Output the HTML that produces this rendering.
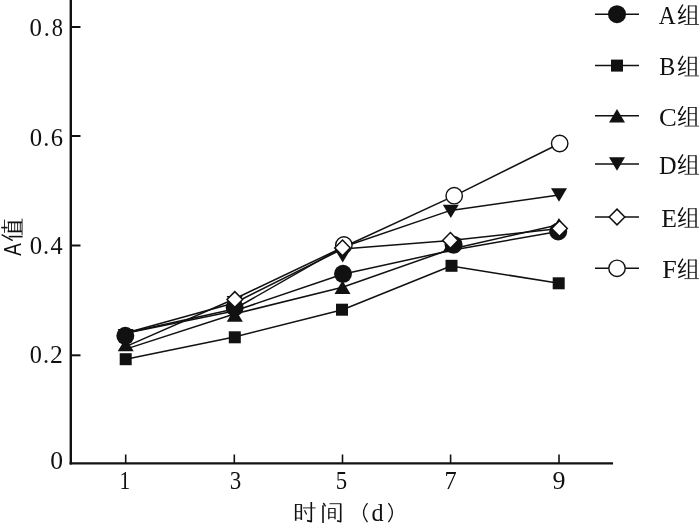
<!DOCTYPE html>
<html><head><meta charset="utf-8"><style>
html,body{margin:0;padding:0;background:#fff;width:700px;height:529px;overflow:hidden}
svg{display:block;will-change:transform}
text{fill:#111}
</style></head><body>
<svg width="700" height="529" viewBox="0 0 700 529">
<rect width="700" height="529" fill="#fff"/>
<line x1="70.8" y1="0" x2="70.8" y2="464.6" stroke="#111" stroke-width="2.4"/><line x1="69.6" y1="463.4" x2="613" y2="463.4" stroke="#111" stroke-width="2.4"/><line x1="70" y1="27.0" x2="80.5" y2="27.0" stroke="#111" stroke-width="2"/><line x1="70" y1="136.0" x2="80.5" y2="136.0" stroke="#111" stroke-width="2"/><line x1="70" y1="245.5" x2="80.5" y2="245.5" stroke="#111" stroke-width="2"/><line x1="70" y1="355.3" x2="80.5" y2="355.3" stroke="#111" stroke-width="2"/><line x1="125.7" y1="454.5" x2="125.7" y2="463" stroke="#111" stroke-width="1.6"/><line x1="234.3" y1="454.5" x2="234.3" y2="463" stroke="#111" stroke-width="1.6"/><line x1="342.5" y1="454.5" x2="342.5" y2="463" stroke="#111" stroke-width="1.6"/><line x1="450.6" y1="454.5" x2="450.6" y2="463" stroke="#111" stroke-width="1.6"/><line x1="559.0" y1="454.5" x2="559.0" y2="463" stroke="#111" stroke-width="1.6"/>
<polyline points="125.7,346.6 234.3,299.0 342.5,247.5 454.2,195.9 559.7,143.5" fill="none" stroke="#111" stroke-width="1.5" stroke-linejoin="round"/><polyline points="125.7,333.0 234.3,303.0 342.5,249.0 450.6,240.6 559.5,228.5" fill="none" stroke="#111" stroke-width="1.5" stroke-linejoin="round"/><polyline points="125.7,333.0 234.3,309.0 342.5,247.2 450.6,210.4 559.0,195.0" fill="none" stroke="#111" stroke-width="1.5" stroke-linejoin="round"/><polyline points="125.7,333.2 234.3,311.0 342.5,274.2 453.0,250.0 558.2,231.5" fill="none" stroke="#111" stroke-width="1.5" stroke-linejoin="round"/><polyline points="125.7,349.1 234.3,314.0 342.5,287.3 450.6,249.3 558.9,224.7" fill="none" stroke="#111" stroke-width="1.5" stroke-linejoin="round"/><polyline points="125.7,359.2 234.3,337.0 342.5,309.7 451.0,266.0 559.0,283.3" fill="none" stroke="#111" stroke-width="1.5" stroke-linejoin="round"/><path d="M117.7 329.1L133.7 329.1L125.7 342.5Z" fill="#111"/><path d="M125.7 337.90000000000003L133.7 351.3L117.7 351.3Z" fill="#111"/><rect x="119.7" y="353.2" width="12" height="12" fill="#111"/><circle cx="125.3" cy="335.8" r="9" fill="#111"/><rect x="228.8" y="331.3" width="12" height="12" fill="#111"/><path d="M234.8 308.3L242.8 321.7L226.8 321.7Z" fill="#111"/><circle cx="234.7" cy="307.5" r="9" fill="#111"/><path d="M226.6 296.1L242.6 296.1L234.6 309.5Z" fill="#111"/><path d="M234.8 291.6L242.60000000000002 299.5L234.8 307.4L227.0 299.5Z" fill="#fff" stroke="#111" stroke-width="1.5"/><circle cx="343.9" cy="245.0" r="8.2" fill="#fff" stroke="#111" stroke-width="1.4"/><path d="M334.7 249.20000000000002L350.7 249.20000000000002L342.7 262.6Z" fill="#111"/><rect x="336.0" y="303.7" width="12" height="12" fill="#111"/><path d="M342.5 280.6L350.5 294.0L334.5 294.0Z" fill="#111"/><circle cx="343.0" cy="273.8" r="9" fill="#111"/><path d="M342.5 240.0L350.3 247.9L342.5 255.8L334.7 247.9Z" fill="#fff" stroke="#111" stroke-width="1.5"/><circle cx="454.2" cy="195.7" r="8.2" fill="#fff" stroke="#111" stroke-width="1.4"/><path d="M442.8 204.70000000000002L458.8 204.70000000000002L450.8 218.1Z" fill="#111"/><rect x="445.5" y="259.8" width="12" height="12" fill="#111"/><path d="M450.6 238.8L458.6 252.2L442.6 252.2Z" fill="#111"/><circle cx="453.6" cy="244.7" r="9" fill="#111"/><path d="M450.4 232.5L458.2 240.4L450.4 248.3L442.59999999999997 240.4Z" fill="#fff" stroke="#111" stroke-width="1.5"/><circle cx="559.7" cy="143.5" r="8.2" fill="#fff" stroke="#111" stroke-width="1.4"/><path d="M551.0 188.3L567.0 188.3L559.0 201.7Z" fill="#111"/><rect x="552.7" y="277.3" width="12" height="12" fill="#111"/><path d="M558.9 218.0L566.9 231.39999999999998L550.9 231.39999999999998Z" fill="#111"/><circle cx="558.2" cy="231.5" r="9" fill="#111"/><path d="M559.5 220.6L567.3 228.5L559.5 236.4L551.7 228.5Z" fill="#fff" stroke="#111" stroke-width="1.5"/>
<line x1="595" y1="14.2" x2="639" y2="14.2" stroke="#111" stroke-width="1.5"/><circle cx="617" cy="14.2" r="9" fill="#111"/><line x1="595" y1="65.6" x2="639" y2="65.6" stroke="#111" stroke-width="1.5"/><rect x="611" y="59.599999999999994" width="12" height="12" fill="#111"/><line x1="595" y1="115.8" x2="639" y2="115.8" stroke="#111" stroke-width="1.5"/><path d="M617 109.1L625 122.5L609 122.5Z" fill="#111"/><line x1="595" y1="164.0" x2="639" y2="164.0" stroke="#111" stroke-width="1.5"/><path d="M609 157.3L625 157.3L617 170.7Z" fill="#111"/><line x1="595" y1="217.0" x2="639" y2="217.0" stroke="#111" stroke-width="1.5"/><path d="M617 209.1L624.8 217.0L617 224.9L609.2 217.0Z" fill="#fff" stroke="#111" stroke-width="1.5"/><line x1="595" y1="268.3" x2="639" y2="268.3" stroke="#111" stroke-width="1.5"/><circle cx="617" cy="268.3" r="8.2" fill="#fff" stroke="#111" stroke-width="1.4"/>
<text font-family="Liberation Serif" font-size="24.4" transform="translate(29.62 36.05) scale(1.018 1)">0</text><text font-family="Liberation Serif" font-size="24.4" transform="translate(43.75 36.05) scale(1.000 1)">.</text><text font-family="Liberation Serif" font-size="24.4" transform="translate(51.85 36.05) scale(0.919 1)">8</text><text font-family="Liberation Serif" font-size="24.4" transform="translate(29.66 146.05) scale(1.015 1)">0</text><text font-family="Liberation Serif" font-size="24.4" transform="translate(43.35 146.05) scale(1.000 1)">.</text><text font-family="Liberation Serif" font-size="24.4" transform="translate(50.64 146.05) scale(1.007 1)">6</text><text font-family="Liberation Serif" font-size="24.4" transform="translate(29.66 253.55) scale(1.015 1)">0</text><text font-family="Liberation Serif" font-size="24.4" transform="translate(43.05 253.55) scale(1.000 1)">.</text><text font-family="Liberation Serif" font-size="24.4" transform="translate(50.43 253.55) scale(0.996 1)">4</text><text font-family="Liberation Serif" font-size="24.4" transform="translate(29.67 362.55) scale(0.996 1)">0</text><text font-family="Liberation Serif" font-size="24.4" transform="translate(43.05 362.55) scale(1.000 1)">.</text><text font-family="Liberation Serif" font-size="24.4" transform="translate(49.99 362.55) scale(1.050 1)">2</text><text font-family="Liberation Serif" font-size="24.4" transform="translate(50.14 469.45) scale(1.050 1)">0</text><text font-family="Liberation Serif" font-size="25" transform="translate(119.54 488.6) scale(0.850 1)">1</text><text font-family="Liberation Serif" font-size="25" transform="translate(229.80 488.6) scale(0.920 1)">3</text><text font-family="Liberation Serif" font-size="25" transform="translate(335.87 488.6) scale(0.914 1)">5</text><text font-family="Liberation Serif" font-size="25" transform="translate(444.39 488.6) scale(0.977 1)">7</text><text font-family="Liberation Serif" font-size="25" transform="translate(552.46 488.6) scale(1.040 1)">9</text><text font-family="Liberation Serif" font-size="24.2" transform="translate(658.87 23.6) scale(0.967 1)">A</text><text font-family="Liberation Serif" font-size="24.2" transform="translate(659.21 74.9) scale(0.996 1)">B</text><text font-family="Liberation Serif" font-size="24.2" transform="translate(659.06 125.5) scale(1.100 1)">C</text><text font-family="Liberation Serif" font-size="24.2" transform="translate(659.10 174.1) scale(1.006 1)">D</text><text font-family="Liberation Serif" font-size="24.2" transform="translate(661.26 226.5) scale(1.064 1)">E</text><text font-family="Liberation Serif" font-size="24.2" transform="translate(662.15 278.0) scale(1.077 1)">F</text><g transform="translate(678.0 4.199999999999999)"><path d="M4.9 0.3L0.5 7.9L3.4 8.8" stroke="#111" stroke-width="1.45" fill="none" stroke-linecap="butt" stroke-linejoin="round"/><path d="M7.8 4.7L1.3 14.3L7.8 12.5" stroke="#111" stroke-width="1.45" fill="none" stroke-linecap="butt" stroke-linejoin="round"/><path d="M0.2 19.3L7.6 16.3" stroke="#111" stroke-width="1.45" fill="none" stroke-linecap="butt" stroke-linejoin="round"/><circle cx="0.9" cy="7.9" r="1.05" fill="#111"/><circle cx="1.6" cy="14.2" r="1.05" fill="#111"/><path d="M10.6 1.2V19.9M18 1.2V19.9" stroke="#111" stroke-width="1.45" fill="none" stroke-linecap="butt" stroke-linejoin="round"/><path d="M10.6 1.7H18M10.6 7.8H18M10.6 14.1H18M6.4 20.3H20.9" stroke="#111" stroke-width="0.8" fill="none"/></g><g transform="translate(678.0 55.599999999999994)"><path d="M4.9 0.3L0.5 7.9L3.4 8.8" stroke="#111" stroke-width="1.45" fill="none" stroke-linecap="butt" stroke-linejoin="round"/><path d="M7.8 4.7L1.3 14.3L7.8 12.5" stroke="#111" stroke-width="1.45" fill="none" stroke-linecap="butt" stroke-linejoin="round"/><path d="M0.2 19.3L7.6 16.3" stroke="#111" stroke-width="1.45" fill="none" stroke-linecap="butt" stroke-linejoin="round"/><circle cx="0.9" cy="7.9" r="1.05" fill="#111"/><circle cx="1.6" cy="14.2" r="1.05" fill="#111"/><path d="M10.6 1.2V19.9M18 1.2V19.9" stroke="#111" stroke-width="1.45" fill="none" stroke-linecap="butt" stroke-linejoin="round"/><path d="M10.6 1.7H18M10.6 7.8H18M10.6 14.1H18M6.4 20.3H20.9" stroke="#111" stroke-width="0.8" fill="none"/></g><g transform="translate(678.0 105.8)"><path d="M4.9 0.3L0.5 7.9L3.4 8.8" stroke="#111" stroke-width="1.45" fill="none" stroke-linecap="butt" stroke-linejoin="round"/><path d="M7.8 4.7L1.3 14.3L7.8 12.5" stroke="#111" stroke-width="1.45" fill="none" stroke-linecap="butt" stroke-linejoin="round"/><path d="M0.2 19.3L7.6 16.3" stroke="#111" stroke-width="1.45" fill="none" stroke-linecap="butt" stroke-linejoin="round"/><circle cx="0.9" cy="7.9" r="1.05" fill="#111"/><circle cx="1.6" cy="14.2" r="1.05" fill="#111"/><path d="M10.6 1.2V19.9M18 1.2V19.9" stroke="#111" stroke-width="1.45" fill="none" stroke-linecap="butt" stroke-linejoin="round"/><path d="M10.6 1.7H18M10.6 7.8H18M10.6 14.1H18M6.4 20.3H20.9" stroke="#111" stroke-width="0.8" fill="none"/></g><g transform="translate(678.0 154.0)"><path d="M4.9 0.3L0.5 7.9L3.4 8.8" stroke="#111" stroke-width="1.45" fill="none" stroke-linecap="butt" stroke-linejoin="round"/><path d="M7.8 4.7L1.3 14.3L7.8 12.5" stroke="#111" stroke-width="1.45" fill="none" stroke-linecap="butt" stroke-linejoin="round"/><path d="M0.2 19.3L7.6 16.3" stroke="#111" stroke-width="1.45" fill="none" stroke-linecap="butt" stroke-linejoin="round"/><circle cx="0.9" cy="7.9" r="1.05" fill="#111"/><circle cx="1.6" cy="14.2" r="1.05" fill="#111"/><path d="M10.6 1.2V19.9M18 1.2V19.9" stroke="#111" stroke-width="1.45" fill="none" stroke-linecap="butt" stroke-linejoin="round"/><path d="M10.6 1.7H18M10.6 7.8H18M10.6 14.1H18M6.4 20.3H20.9" stroke="#111" stroke-width="0.8" fill="none"/></g><g transform="translate(678.0 207.0)"><path d="M4.9 0.3L0.5 7.9L3.4 8.8" stroke="#111" stroke-width="1.45" fill="none" stroke-linecap="butt" stroke-linejoin="round"/><path d="M7.8 4.7L1.3 14.3L7.8 12.5" stroke="#111" stroke-width="1.45" fill="none" stroke-linecap="butt" stroke-linejoin="round"/><path d="M0.2 19.3L7.6 16.3" stroke="#111" stroke-width="1.45" fill="none" stroke-linecap="butt" stroke-linejoin="round"/><circle cx="0.9" cy="7.9" r="1.05" fill="#111"/><circle cx="1.6" cy="14.2" r="1.05" fill="#111"/><path d="M10.6 1.2V19.9M18 1.2V19.9" stroke="#111" stroke-width="1.45" fill="none" stroke-linecap="butt" stroke-linejoin="round"/><path d="M10.6 1.7H18M10.6 7.8H18M10.6 14.1H18M6.4 20.3H20.9" stroke="#111" stroke-width="0.8" fill="none"/></g><g transform="translate(678.0 258.3)"><path d="M4.9 0.3L0.5 7.9L3.4 8.8" stroke="#111" stroke-width="1.45" fill="none" stroke-linecap="butt" stroke-linejoin="round"/><path d="M7.8 4.7L1.3 14.3L7.8 12.5" stroke="#111" stroke-width="1.45" fill="none" stroke-linecap="butt" stroke-linejoin="round"/><path d="M0.2 19.3L7.6 16.3" stroke="#111" stroke-width="1.45" fill="none" stroke-linecap="butt" stroke-linejoin="round"/><circle cx="0.9" cy="7.9" r="1.05" fill="#111"/><circle cx="1.6" cy="14.2" r="1.05" fill="#111"/><path d="M10.6 1.2V19.9M18 1.2V19.9" stroke="#111" stroke-width="1.45" fill="none" stroke-linecap="butt" stroke-linejoin="round"/><path d="M10.6 1.7H18M10.6 7.8H18M10.6 14.1H18M6.4 20.3H20.9" stroke="#111" stroke-width="0.8" fill="none"/></g><path d="M295.7 504.0V520.7M301.3 504.3V519.9" stroke="#111" stroke-width="1.6" fill="none" stroke-linejoin="round"/><path d="M295.7 504.5H301.3M295.7 511.6H301.3M295.7 518.1H301.3M303 507.9H315.6" stroke="#111" stroke-width="0.9" fill="none"/><path d="M311.3 502V521.6L307 520.6" stroke="#111" stroke-width="1.6" fill="none" stroke-linejoin="round"/><path d="M304.5 510.2L306.7 514.5" stroke="#111" stroke-width="1.3" fill="none"/><path d="M323.3 503L325.6 506.4" stroke="#111" stroke-width="1.4" fill="none"/><path d="M323.0 505.3V523M340.7 503.4V521.8L337 520.8" stroke="#111" stroke-width="1.6" fill="none" stroke-linejoin="round"/><path d="M328.8 508.2V519.3M335 508.2V519.3" stroke="#111" stroke-width="1.3" fill="none"/><path d="M329.6 503.7H340.7M328.8 508.5H335M328.8 512.7H335M328.8 517.3H335" stroke="#111" stroke-width="0.9" fill="none"/><path d="M367.5 503.1Q359.6 512.6 367.5 522.1" stroke="#111" stroke-width="1.3" fill="none"/><path d="M388.4 503.1Q396.3 512.6 388.4 522.1" stroke="#111" stroke-width="1.3" fill="none"/><text font-family="Liberation Serif" font-size="24.3" transform="translate(371.53 521.2) scale(0.993 1)">d</text><text font-family="Liberation Sans" font-size="24.3" transform="translate(20.8 255.74) rotate(-90) scale(0.770 1)">A</text><g transform="matrix(0 -1 1 0 0 241.2)"><path d="M6.6 1.6L0.6 12.7" stroke="#111" stroke-width="1.6" fill="none" stroke-linejoin="round"/><path d="M4.6 8.8V22.6" stroke="#111" stroke-width="1.6" fill="none" stroke-linejoin="round"/><path d="M8.4 4.5H21.6M6.2 22.1H22.5" stroke="#111" stroke-width="0.9" fill="none"/><path d="M13.6 1.2V7.6" stroke="#111" stroke-width="1.6" fill="none" stroke-linejoin="round"/><path d="M9.8 7.6V21.9M18.85 7.6V21.9" stroke="#111" stroke-width="1.6" fill="none" stroke-linejoin="round"/><path d="M9.8 8.5H18.85M9.8 11.5H18.85M9.8 14.7H18.85M9.8 17.6H18.85M9.8 20.3H18.85" stroke="#111" stroke-width="0.9" fill="none"/></g>
</svg></body></html>
